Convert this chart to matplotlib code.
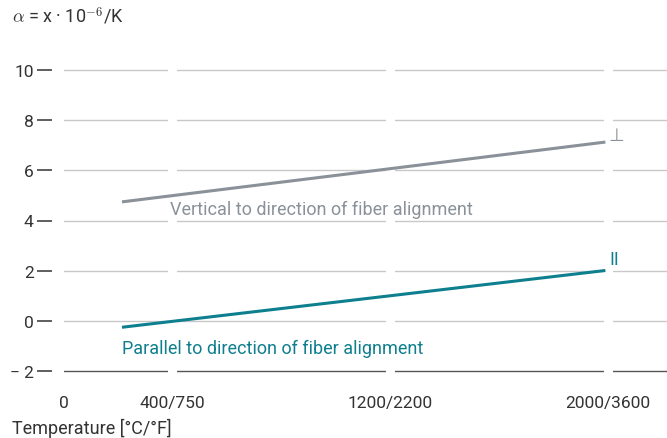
import matplotlib.pyplot as plt

plt.rcParams['font.family'] = ['Roboto', 'DejaVu Sans']
plt.rcParams['mathtext.fontset'] = 'cm'

x_ticks = [0, 400, 1200, 2000]
x_labels = ['0', '400/750', '1200/2200', '2000/3600']
y_ticks = [-2, 0, 2, 4, 6, 8, 10]
y_labels = ['\u2212 2', '0', '2', '4', '6', '8', '10']

temp = [220, 1985]
vertical = [4.75, 7.12]
parallel = [-0.25, 2.0]

gray = '#8a9199'
teal = '#0e7f8e'
txt = '#333333'

fig = plt.figure(figsize=(6.67, 4.39), dpi=100)
ax = fig.add_axes([63.6 / 667, (439 - 377) / 439, 1 - 63.6 / 667, 311 / 439])
ax.set_xlim(0, 2217)
ax.set_ylim(-2.2, 10.2)

for y in y_ticks:
    c = '#555555' if y == -2 else '#c8c8c8'
    ax.axhline(y, color=c, lw=1.0, zorder=1)

# white gaps in the grid at the x ticks
for x in x_ticks[1:]:
    ax.axvline(x, color='white', lw=6.5, zorder=2)

ax.plot(temp, vertical, color=gray, lw=2.2, zorder=3)
ax.plot(temp, parallel, color=teal, lw=2.2, zorder=3)

ax.text(392, 4.45, 'Vertical to direction of fiber alignment', color=gray,
        fontsize=13, va='center', ha='left', zorder=5)
ax.text(213, -1.08, 'Parallel to direction of fiber alignment', color=teal,
        fontsize=13, va='center', ha='left', zorder=5)
ax.text(2030, 7.4, '\u22a5', color=gray, fontsize=13, va='center', ha='center',
        family=['DejaVu Sans'], zorder=5)
ax.text(2025, 2.45, 'II', color=teal, fontsize=13, va='center', ha='center', zorder=5)

for s in ax.spines.values():
    s.set_visible(False)
ax.spines['left'].set_position(('outward', 8))

ax.set_yticks(y_ticks)
ax.set_yticklabels(y_labels)
ax.tick_params(axis='y', length=11, width=1.1, color=txt, pad=2.5,
               labelsize=12.5, labelcolor=txt)
ax.set_xticks(x_ticks)
ax.set_xticklabels(x_labels)
ax.tick_params(axis='x', length=0, pad=14, labelsize=12.5, labelcolor=txt)

fig.text(12 / 667, 1 - 16 / 439, '$\\alpha$ = x \u00b7 10$^{-6}$/K', fontsize=13,
         color=txt, va='center', ha='left')
fig.text(12 / 667, 1 - 428 / 439, 'Temperature [\u00b0C/\u00b0F]', fontsize=13,
         color=txt, va='center', ha='left')

fig.savefig('out.png', dpi=100)
